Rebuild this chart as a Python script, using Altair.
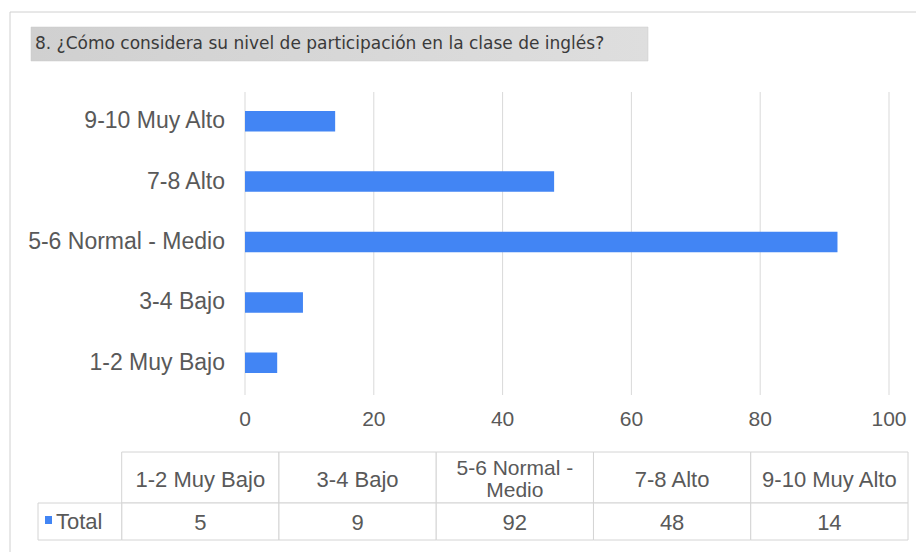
import altair as alt
import pandas as pd

# ---- data ----
categories = ["1-2 Muy Bajo", "3-4 Bajo", "5-6 Normal - Medio", "7-8 Alto", "9-10 Muy Alto"]
header_labels = ["1-2 Muy Bajo", "3-4 Bajo", "5-6 Normal -\nMedio", "7-8 Alto", "9-10 Muy Alto"]
values = [5, 9, 92, 48, 14]
ticks = [0, 20, 40, 60, 80, 100]
series_name = "Total"
title_text = "8. ¿Cómo considera su nivel de participación en la clase de inglés?"

df = pd.DataFrame({"cat": categories, "header": header_labels, "value": values})
df_ticks = pd.DataFrame({"tick": ticks})
one = pd.DataFrame({"k": [0]})

FONT = "Liberation Sans"
BLUE = "#4285F4"
TEXT = "#595959"
GRID = "#d9d9d9"
CELL = "#d4d4d4"

# plot area geometry (chart coordinates = page - 8)
xscale = alt.Scale(domain=[0, 100], range=[237, 881], nice=False, zero=True)
yorder = categories[::-1]
yscale = alt.Scale(domain=yorder, range=[83, 385], paddingInner=0.66, paddingOuter=0.33)
tscale = alt.Scale(domain=categories, range=[113.7, 900], paddingInner=0, paddingOuter=0)

border = alt.Chart(one).mark_rect(fill="white", stroke="#d0d0d0", strokeWidth=1).encode(
    x=alt.value(2), x2=alt.value(960), y=alt.value(4), y2=alt.value(620)
)

title_box = alt.Chart(one).mark_rect(
    fill=alt.Gradient(
        gradient="linear",
        stops=[alt.GradientStop(color="#d0d0d0", offset=0), alt.GradientStop(color="#dedede", offset=1)],
        x1=0, x2=1, y1=0, y2=0,
    ),
    stroke="#c8c8c8", strokeWidth=0.5,
).encode(x=alt.value(23), x2=alt.value(640), y=alt.value(19), y2=alt.value(53))

title = alt.Chart(one).mark_text(
    text=title_text, align="left", baseline="middle", font="DejaVu Sans", fontSize=17, color="#3a3a3a"
).encode(x=alt.value(27), y=alt.value(36))

grid = alt.Chart(df_ticks).mark_rule(color=GRID, strokeWidth=1).encode(
    x=alt.X("tick:Q", scale=xscale, axis=None), y=alt.value(84), y2=alt.value(387)
)

tick_labels = alt.Chart(df_ticks).mark_text(
    font=FONT, fontSize=21, color=TEXT, baseline="middle", align="center"
).encode(x=alt.X("tick:Q", scale=xscale, axis=None), y=alt.value(412), text="tick:Q")

bars = alt.Chart(df).mark_bar(color=BLUE).encode(
    x=alt.X("value:Q", scale=xscale, axis=None),
    y=alt.Y("cat:N", scale=yscale, axis=None, sort=yorder),
)

cat_labels = alt.Chart(df).mark_text(
    font=FONT, fontSize=23, color=TEXT, align="right", baseline="middle"
).encode(y=alt.Y("cat:N", scale=yscale, axis=None, sort=yorder), x=alt.value(217), text="cat:N")

head_cells = alt.Chart(df).mark_rect(fill="white", stroke=CELL, strokeWidth=1).encode(
    x=alt.X("cat:N", scale=tscale, axis=None, sort=categories), y=alt.value(444), y2=alt.value(495)
)
data_cells = alt.Chart(df).mark_rect(fill="white", stroke=CELL, strokeWidth=1).encode(
    x=alt.X("cat:N", scale=tscale, axis=None, sort=categories), y=alt.value(495), y2=alt.value(532)
)
legend_cell = alt.Chart(one).mark_rect(fill="white", stroke=CELL, strokeWidth=1).encode(
    x=alt.value(30), x2=alt.value(113.7), y=alt.value(495), y2=alt.value(532)
)
legend_sq = alt.Chart(one).mark_rect(fill=BLUE).encode(
    x=alt.value(37), x2=alt.value(44), y=alt.value(508), y2=alt.value(516)
)
legend_txt = alt.Chart(one).mark_text(
    text=series_name, font=FONT, fontSize=22, color=TEXT, align="left", baseline="middle"
).encode(x=alt.value(48), y=alt.value(514))

head_single = alt.Chart(df).transform_filter(
    "indexof(datum.header, '\\n') < 0"
).mark_text(
    font=FONT, fontSize=22, color=TEXT, align="center", baseline="middle"
).encode(x=alt.X("cat:N", scale=tscale, axis=None, sort=categories), y=alt.value(472), text="header:N")

head_multi = alt.Chart(df).transform_filter(
    "indexof(datum.header, '\\n') >= 0"
).mark_text(
    font=FONT, fontSize=21, color=TEXT, align="center", baseline="middle", lineBreak="\n", lineHeight=22
).encode(x=alt.X("cat:N", scale=tscale, axis=None, sort=categories), y=alt.value(461), text="header:N")

data_txt = alt.Chart(df).mark_text(
    font=FONT, fontSize=22, color=TEXT, align="center", baseline="middle"
).encode(x=alt.X("cat:N", scale=tscale, axis=None, sort=categories), y=alt.value(515), text="value:Q")

chart = alt.layer(
    border, title_box, title, grid, tick_labels, bars, cat_labels,
    head_cells, data_cells, legend_cell, legend_sq, legend_txt, head_single, head_multi, data_txt,
).resolve_scale(x="independent", y="independent").properties(
    width=908, height=544, padding=0, autosize=alt.AutoSizeParams(type="none")
).configure_view(stroke=None)

chart.save("out.html", embed_options={"renderer": "svg", "actions": False})
